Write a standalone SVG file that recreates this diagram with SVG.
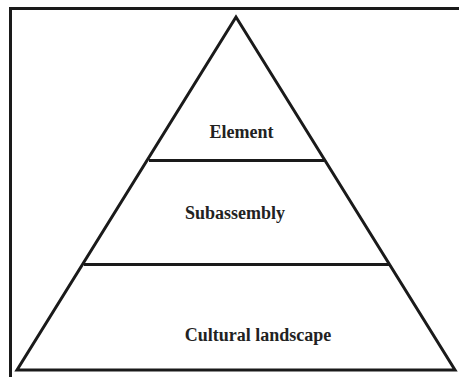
<svg xmlns="http://www.w3.org/2000/svg" width="459" height="377" viewBox="0 0 459 377">
<style>
.ln{stroke:#1a1a1a;stroke-width:3;fill:none}
.t{font-family:"Liberation Serif","Times New Roman",serif;font-weight:bold;font-size:18px;fill:#222;text-anchor:middle}
</style>
<rect width="459" height="377" fill="#fff"/>
<g id="frame">
<path class="ln" d="M10.5,377 V8.5 H459"/>
</g>
<g id="pyramid">
<path class="ln" d="M236,17 L17,370 H455 Z" stroke-linejoin="miter"/>
</g>
<g id="connectors">
<line class="ln" x1="149" y1="160.5" x2="324" y2="160.5"/>
<line class="ln" x1="84" y1="264.5" x2="389" y2="264.5"/>
</g>
<g id="element"><text class="t" x="241.5" y="138">Element</text></g>
<g id="subassembly"><text class="t" x="235" y="219">Subassembly</text></g>
<g id="cultural"><text class="t" x="258" y="341">Cultural landscape</text></g>
</svg>
